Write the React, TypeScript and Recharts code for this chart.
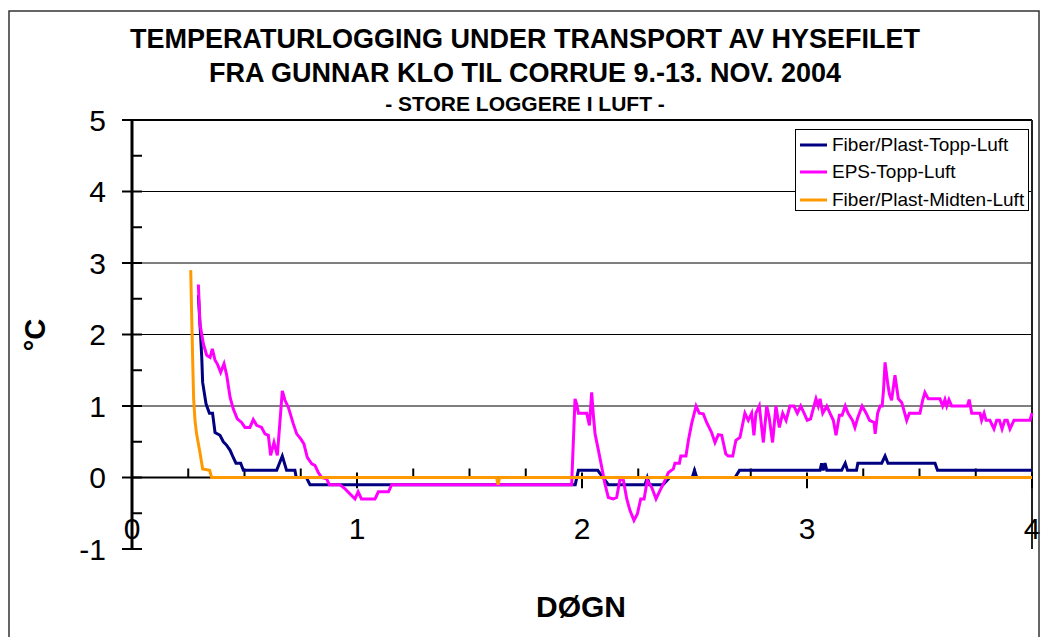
import React from 'react';
import { LineChart, Line, XAxis, YAxis, ReferenceLine } from 'recharts';

const FONT = '"Liberation Sans", Arial, Helvetica, sans-serif';

const titleLines = ['TEMPERATURLOGGING UNDER TRANSPORT AV HYSEFILET', 'FRA GUNNAR KLO TIL CORRUE 9.-13. NOV. 2004'];
const subtitle = '- STORE LOGGERE I LUFT -';
const xTitle = 'DØGN';
const yTitle = '°C';

const seriesNames = ['Fiber/Plast-Topp-Luft', 'EPS-Topp-Luft', 'Fiber/Plast-Midten-Luft'];
const seriesColors = ['#000080', '#FF00FF', '#FF9900'];

// Fiber/Plast-Topp-Luft
const fiberToppDays = [0.295, 0.302, 0.31, 0.314, 0.329, 0.344, 0.358, 0.369, 0.391, 0.406, 0.421, 0.436, 0.45, 0.462, 0.483, 0.495, 0.643, 0.668, 0.687, 0.724, 0.73, 0.775, 0.791, 1.97, 1.984, 2.07, 2.117, 2.28, 2.29, 2.3, 2.36, 2.39, 2.49, 2.5, 2.51, 2.68, 2.7, 3.058, 3.065, 3.072, 3.08, 3.088, 3.154, 3.17, 3.18, 3.22, 3.226, 3.332, 3.347, 3.36, 3.569, 3.58, 4.0];
const fiberToppTemps = [2.55, 2.15, 1.68, 1.33, 1.03, 0.9, 0.9, 0.63, 0.59, 0.5, 0.45, 0.38, 0.28, 0.2, 0.2, 0.1, 0.1, 0.3, 0.1, 0.1, 0, 0, -0.1, -0.1, 0.1, 0.1, -0.1, -0.1, 0, -0.1, -0.1, 0, 0, 0.1, 0, 0, 0.1, 0.1, 0.2, 0.1, 0.2, 0.1, 0.1, 0.2, 0.1, 0.1, 0.2, 0.2, 0.3, 0.2, 0.2, 0.1, 0.1];

// EPS-Topp-Luft
const epsToppDays = [0.295, 0.302, 0.317, 0.332, 0.347, 0.357, 0.369, 0.379, 0.394, 0.409, 0.421, 0.436, 0.45, 0.468, 0.487, 0.502, 0.524, 0.539, 0.554, 0.576, 0.591, 0.606, 0.616, 0.631, 0.646, 0.658, 0.668, 0.68, 0.695, 0.717, 0.732, 0.75, 0.764, 0.779, 0.799, 0.813, 0.828, 0.843, 0.865, 0.877, 0.924, 0.947, 0.991, 1.005, 1.02, 1.08, 1.095, 1.14, 1.154, 1.954, 1.969, 1.976, 1.984, 2.021, 2.033, 2.043, 2.05, 2.058, 2.073, 2.088, 2.102, 2.117, 2.139, 2.154, 2.169, 2.184, 2.199, 2.213, 2.231, 2.246, 2.261, 2.276, 2.29, 2.31, 2.329, 2.347, 2.369, 2.384, 2.406, 2.413, 2.433, 2.439, 2.462, 2.473, 2.487, 2.507, 2.521, 2.539, 2.554, 2.576, 2.591, 2.606, 2.621, 2.639, 2.65, 2.67, 2.684, 2.702, 2.724, 2.739, 2.754, 2.764, 2.773, 2.788, 2.806, 2.821, 2.832, 2.847, 2.862, 2.877, 2.892, 2.907, 2.924, 2.942, 2.957, 2.972, 2.987, 3.001, 3.016, 3.031, 3.04, 3.05, 3.058, 3.07, 3.088, 3.102, 3.117, 3.129, 3.144, 3.156, 3.17, 3.182, 3.202, 3.213, 3.226, 3.245, 3.263, 3.278, 3.298, 3.303, 3.314, 3.325, 3.334, 3.34, 3.347, 3.359, 3.366, 3.376, 3.391, 3.406, 3.421, 3.443, 3.455, 3.502, 3.514, 3.524, 3.539, 3.591, 3.603, 3.613, 3.621, 3.631, 3.643, 3.713, 3.721, 3.732, 3.769, 3.776, 3.787, 3.796, 3.813, 3.831, 3.843, 3.855, 3.867, 3.879, 3.89, 3.902, 3.92, 3.991, 4.0];
const epsToppTemps = [2.7, 2.15, 1.87, 1.71, 1.68, 1.8, 1.64, 1.59, 1.47, 1.59, 1.43, 1.12, 0.96, 0.82, 0.77, 0.7, 0.7, 0.81, 0.73, 0.7, 0.61, 0.59, 0.31, 0.49, 0.31, 0.8, 1.21, 1.08, 0.98, 0.75, 0.61, 0.54, 0.47, 0.28, 0.19, 0.17, 0.07, 0, -0.02, -0.1, -0.1, -0.16, -0.3, -0.2, -0.3, -0.3, -0.2, -0.2, -0.1, -0.1, 1.1, 1.03, 0.9, 0.9, 0.73, 1.19, 0.89, 0.61, 0.38, 0.14, -0.09, -0.28, -0.3, -0.28, -0.02, -0.04, -0.3, -0.46, -0.6, -0.51, -0.3, -0.3, -0.04, -0.14, -0.3, -0.18, -0.04, 0.07, 0.12, 0.2, 0.2, 0.3, 0.3, 0.52, 0.75, 1.0, 0.9, 0.89, 0.77, 0.63, 0.49, 0.6, 0.59, 0.33, 0.3, 0.3, 0.52, 0.56, 0.9, 0.8, 0.9, 0.59, 0.9, 1.0, 0.49, 1.0, 0.84, 0.49, 1.0, 0.7, 0.9, 0.8, 1.0, 1.0, 0.9, 1.0, 0.9, 0.8, 0.82, 1.0, 1.1, 1.0, 1.1, 0.9, 1.0, 0.9, 0.8, 0.59, 0.87, 0.87, 1.0, 0.9, 0.8, 0.7, 0.84, 1.0, 0.9, 0.8, 0.77, 0.61, 0.9, 1.0, 1.0, 1.22, 1.61, 1.31, 1.17, 1.08, 1.43, 1.1, 1.05, 0.8, 0.9, 0.9, 1.08, 1.19, 1.1, 1.1, 1.0, 1.09, 1.0, 1.09, 1.0, 1.0, 1.09, 0.9, 0.9, 0.8, 0.9, 0.8, 0.8, 0.68, 0.8, 0.8, 0.68, 0.8, 0.8, 0.68, 0.8, 0.8, 0.9];

// Fiber/Plast-Midten-Luft
const fiberMidtenDays = [0.261, 0.265, 0.27, 0.274, 0.28, 0.287, 0.302, 0.314, 0.345, 0.354, 1.62, 1.627, 1.634, 4.0];
const fiberMidtenTemps = [2.9, 2.3, 1.6, 1.1, 0.8, 0.61, 0.35, 0.12, 0.1, 0, 0, -0.1, 0, 0];

const xTicks = [0, 1, 2, 3, 4];
const xMinorTicks = [0.25, 0.5, 0.75, 1.25, 1.5, 1.75, 2.25, 2.5, 2.75, 3.25, 3.5, 3.75];
const yTicks = [-1, 0, 1, 2, 3, 4, 5];
const yInnerTicks = [-1, -0.5, 0, 0.5, 1, 1.5, 2, 2.5, 3, 3.5, 4, 4.5, 5];
const gridValues = [1, 2, 3, 4];

const toPoints = (days: number[], temps: number[]) => days.map((d, i) => ({ d, v: temps[i] }));

const seriesData = [
  toPoints(fiberToppDays, fiberToppTemps),
  toPoints(epsToppDays, epsToppTemps),
  toPoints(fiberMidtenDays, fiberMidtenTemps),
];

const XTick = (props: any) => {
  const { x, y, payload } = props;
  return (
    <text x={x} y={y - 10} textAnchor="middle" fontSize={30} fontFamily={FONT} fill="#000">
      {payload.value}
    </text>
  );
};

const LegendBox = () => (
  <div
    style={{
      position: 'absolute',
      left: 795,
      top: 129,
      width: 232,
      height: 80,
      background: '#fff',
      border: '1px solid #000',
      fontFamily: FONT,
      fontSize: 19,
    }}
  >
    {seriesNames.map((name, i) => (
      <div key={name} style={{ height: 27.5, display: 'flex', alignItems: 'center', marginTop: i === 0 ? 1 : 0 }}>
        <svg width={36} height={10} style={{ flex: 'none' }}>
          <line x1={4} y1={5} x2={31} y2={5} stroke={seriesColors[i]} strokeWidth={3} />
        </svg>
        <span style={{ whiteSpace: 'nowrap', color: '#000' }}>{name}</span>
      </div>
    ))}
  </div>
);

export default function App() {
  return (
    <div style={{ position: 'absolute', left: 0, top: 0, width: 1042, height: 637, background: '#fff', overflow: 'hidden' }}>
      <LineChart
        width={1042}
        height={637}
        margin={{ top: 120, right: 10, bottom: 58, left: 72 }}
        style={{ fontFamily: FONT }}
      >
        {gridValues.map((g) => (
          <ReferenceLine key={'g' + g} y={g} stroke="#000" strokeWidth={1} ifOverflow="visible" />
        ))}
        <XAxis
          type="number"
          dataKey="d"
          domain={[0, 4]}
          ticks={xTicks}
          interval={0}
          axisLine={false}
          tickLine={false}
          tickSize={0}
          tickMargin={0}
          height={30}
          tick={<XTick />}
        />
        <YAxis
          type="number"
          dataKey="v"
          domain={[-1, 5]}
          ticks={yTicks}
          interval={0}
          width={60}
          axisLine={{ stroke: '#000', strokeWidth: 3 }}
          tickLine={{ stroke: '#000', strokeWidth: 2 }}
          tickSize={10}
          tickMargin={16}
          tick={{ fontSize: 30, fill: '#000', fontFamily: FONT }}
        />
        <ReferenceLine y={5} stroke="#000" strokeWidth={2} ifOverflow="visible" />
        <ReferenceLine x={4} stroke="#222" strokeWidth={2} ifOverflow="visible" />
        <ReferenceLine y={0} stroke="#000" strokeWidth={2} ifOverflow="visible" />
        {yInnerTicks.map((t) => (
          <ReferenceLine
            key={'yi' + t}
            segment={[{ x: 0, y: t }, { x: 0.0444, y: t }]}
            stroke="#000"
            strokeWidth={2}
            ifOverflow="visible"
          />
        ))}
        {xMinorTicks.map((t) => (
          <ReferenceLine
            key={'xm' + t}
            segment={[{ x: t, y: 0 }, { x: t, y: 0.126 }]}
            stroke="#000"
            strokeWidth={2}
            ifOverflow="visible"
          />
        ))}
        {xTicks.map((t) => (
          <ReferenceLine
            key={'xM' + t}
            segment={[{ x: t, y: -0.15 }, { x: t, y: 0.07 }]}
            stroke="#000"
            strokeWidth={2}
            ifOverflow="visible"
          />
        ))}
        {seriesData.map((data, i) => (
          <Line
            key={seriesNames[i]}
            data={data}
            dataKey="v"
            name={seriesNames[i]}
            type="linear"
            stroke={seriesColors[i]}
            strokeWidth={3}
            dot={false}
            activeDot={false}
            isAnimationActive={false}
          />
        ))}
      </LineChart>
      <LegendBox />
      <svg
        width={1042}
        height={637}
        style={{ position: 'absolute', left: 0, top: 0, pointerEvents: 'none' }}
        fontFamily={FONT}
      >
        <rect x={9} y={11} width={1030} height={640} fill="none" stroke="#333" strokeWidth={1.5} />
        <text x={525} y={48} textAnchor="middle" fontSize={27} fontWeight="bold" fill="#000">{titleLines[0]}</text>
        <text x={525} y={82} textAnchor="middle" fontSize={27} fontWeight="bold" fill="#000">{titleLines[1]}</text>
        <text x={525} y={111} textAnchor="middle" fontSize={21} fontWeight="bold" fill="#000">{subtitle}</text>
        <text x={0} y={0} transform="translate(45,335) rotate(-90)" textAnchor="middle" fontSize={29} fontWeight="bold" fill="#000">{yTitle}</text>
        <text x={581} y={617} textAnchor="middle" fontSize={30} fontWeight="bold" fill="#000">{xTitle}</text>
      </svg>
    </div>
  );
}
